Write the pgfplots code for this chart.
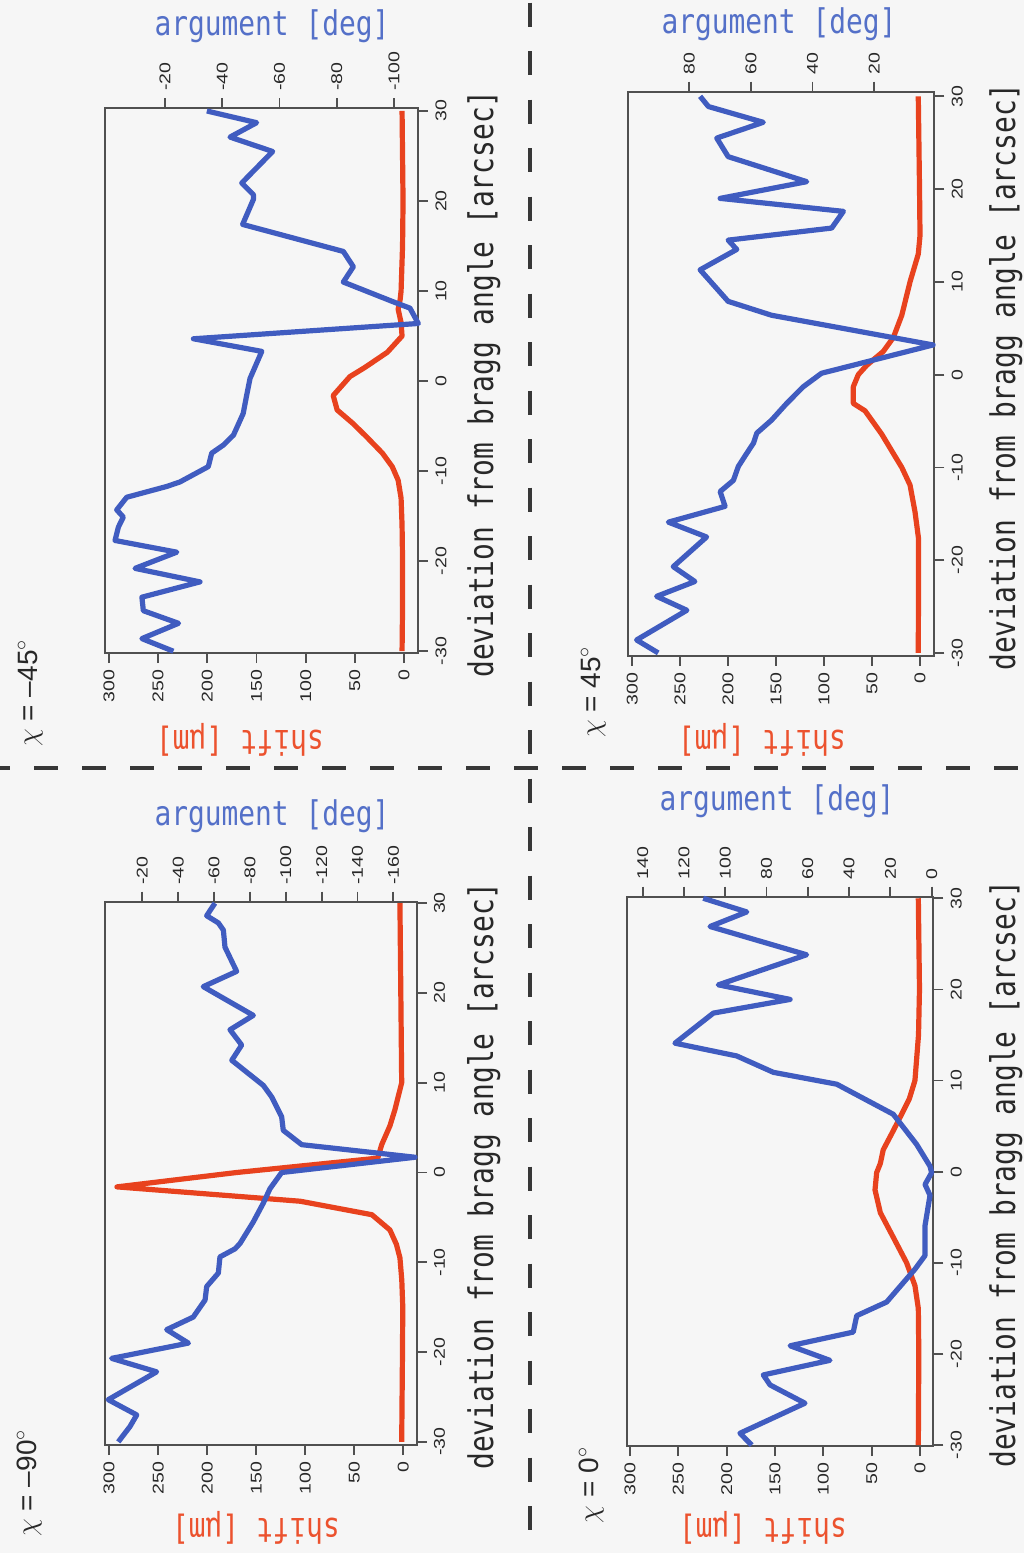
\documentclass[border=0pt]{standalone}
\usepackage{fontspec}
\usepackage{pgfplots}
\pgfplotsset{compat=1.18}
\setmainfont{Liberation Sans}
\newfontfamily\monof[FakeStretch=0.82]{DejaVu Sans Mono}
\newfontfamily\tickf[FakeStretch=1.25]{Liberation Sans}
\definecolor{cblue}{RGB}{64,92,192}
\definecolor{cred}{RGB}{232,66,30}
\definecolor{lblue}{RGB}{84,112,200}
\definecolor{lred}{RGB}{236,82,46}
\definecolor{axgray}{RGB}{80,80,80}
\definecolor{tickc}{RGB}{40,40,40}
\definecolor{bg}{RGB}{246,246,246}
\definecolor{dashc}{RGB}{55,55,55}
\pgfplotsset{
  base/.style={scale only axis, clip=false, anchor=north west,
    axis line style={draw=axgray, line width=1pt},
    tick style={draw=axgray, line width=0.9pt},
    major tick length=5pt, tick align=outside,
    /pgf/number format/assume math mode=true,
    ticklabel style={font=\tickf\fontsize{7.8}{9}\selectfont, text=tickc}},
  shiftax/.style={base, x dir=reverse, xtick={0,50,...,300}, ytick={-30,-20,...,30},
    xtick pos=left, ytick pos=right, xticklabel pos=left, yticklabel pos=right,
    x tick label style={rotate=90, anchor=east},
    y tick label style={rotate=90, anchor=north, inner sep=3.5pt}},
  argax/.style={base, x dir=reverse, xtick pos=right, xticklabel pos=right, ytick=\empty,
    axis line style={draw=none},
    x tick label style={rotate=90, anchor=west}},
  redc/.style={cred, line width=2.6pt, line join=round},
  bluec/.style={cblue, line width=2.6pt, line join=round},
}
\begin{document}
\begin{tikzpicture}
\useasboundingbox (0,0) rectangle (512pt,-776.5pt);
\fill[bg] (0,0) rectangle (512pt,-776.5pt);
\draw[dashc, line width=2pt, dash pattern=on 12pt off 12pt] (-7pt,-384pt) -- (520pt,-384pt);
\draw[dashc, line width=2pt, dash pattern=on 12pt off 12.25pt] (265pt,-1.25pt) -- (265pt,-780pt);

% ---------- chi = -45 (A) ----------
\begin{axis}[shiftax, at={(52.5pt,-54pt)}, width=156.5pt, height=272.5pt,
  xmin=-14.2, xmax=304, ymin=-30.2, ymax=30.33]
\addplot[redc] coordinates {(2,30) (1.5,25) (1,20) (1.5,15) (3,10) (4,9) (6,8) (3,6.5) (2,5) (17,3.2) (40,1.5) (55,0.5) (72,-1.6) (68,-3.2) (52,-4.7) (38,-6.2) (22,-8) (12,-9.5) (6,-11) (3,-13) (2,-16) (1.5,-20) (1.5,-25) (2,-30)};
\end{axis}
\begin{axis}[argax, at={(52.5pt,-54pt)}, width=156.5pt, height=272.5pt,
  xmin=-108.4, xmax=1.0, ymin=-30.2, ymax=30.33, xtick={-100,-80,...,-20}]
\addplot[bluec] coordinates {(-34.6,30) (-52.0,28.7) (-42.7,27.1) (-57.6,25.5) (-46.8,22.0) (-50.9,20.7) (-50.9,20.2) (-47.1,17.4) (-82.3,14.4) (-85.8,12.7) (-82.3,11.0) (-99.8,8.8) (-105.6,8.1) (-108.5,6.4) (-29.9,4.7) (-53.8,3.3) (-49.7,0.3) (-48.5,-1.6) (-47.3,-3.6) (-43.9,-6.0) (-40.4,-7.1) (-36.3,-8.0) (-35.1,-9.5) (-25.2,-11.2) (-20.6,-11.7) (-6.6,-12.9) (-3.1,-14.3) (-5.4,-15.1) (-3.7,-16.2) (-2.5,-17.7) (-24.1,-19.0) (-9.5,-20.8) (-32.2,-22.3) (-11.9,-24.0) (-12.4,-25.5) (-24.7,-26.9) (-11.9,-28.6) (-22.9,-30)};
\end{axis}

% ---------- chi = -90 (B) ----------
\begin{axis}[shiftax, at={(52.5pt,-450.85pt)}, width=155.85pt, height=271.65pt,
  xmin=-13.7, xmax=304.2, ymin=-30.35, ymax=30.16]
\addplot[redc] coordinates {(3.4,30) (2.5,20) (1.6,10) (8.5,7) (13.6,5.2) (22,3.1) (26,1.6) (170,0) (292,-1.6) (105,-3.2) (32,-4.7) (13.6,-6.4) (7,-8) (3.4,-9.5) (1.5,-12) (0.5,-15) (0.8,-20) (1.2,-25) (1.6,-30)};
\end{axis}
\begin{axis}[argax, at={(52.5pt,-450.85pt)}, width=155.85pt, height=271.65pt,
  xmin=-173, xmax=0.8, ymin=-30.35, ymax=30.16, xtick={-160,-140,...,-20}]
\addplot[bluec] coordinates {(-60.5,30) (-55.9,28.6) (-62.4,27.8) (-65.2,27.0) (-66.1,25.1) (-72.6,22.4) (-54.0,20.7) (-81.9,17.5) (-68.9,15.9) (-75.4,14.2) (-69.9,12.5) (-87.5,9.7) (-92.2,8.4) (-97.7,6.2) (-98.6,4.7) (-108.9,3.1) (-172.1,1.7) (-97.7,0) (-91.2,-1.8) (-87.5,-3.4) (-81.9,-5.5) (-74.5,-7.9) (-71.7,-8.5) (-63.3,-9.4) (-62.4,-11.2) (-55.9,-12.7) (-55.0,-14.2) (-48.4,-16.1) (-33.6,-17.5) (-45.7,-19.0) (-2.9,-20.7) (-28.0,-22.2) (-1.0,-25.3) (-16.9,-27.0) (-13.1,-28.3) (-6.6,-30)};
\end{axis}

% ---------- chi = 0 (C) ----------
\begin{axis}[shiftax, at={(313.35pt,-448.35pt)}, width=153.3pt, height=274.65pt,
  xmin=-13.8, xmax=303.4, ymin=-30.1, ymax=30.17]
\addplot[redc] coordinates {(1.7,30) (0.5,20) (1.5,15) (5.2,10) (11,8) (19,6.3) (27.6,4.5) (38,2.4) (41,0.9) (44.8,-0.1) (46.5,-2) (41,-4.5) (27.6,-7.2) (13.8,-10) (5.2,-12.5) (1.7,-15) (1.2,-20) (1.7,-30)};
\end{axis}
\begin{axis}[argax, at={(313.35pt,-448.35pt)}, width=153.3pt, height=274.65pt,
  xmin=-0.8, xmax=147.8, ymin=-30.1, ymax=30.17, xtick={0,20,...,140}]
\addplot[bluec] coordinates {(110.7,30) (89.6,28.5) (107.4,26.9) (60.6,23.8) (103.4,20.5) (68.6,18.9) (105.8,17.4) (124.4,14.1) (94.5,12.7) (76.7,10.9) (46.0,9.6) (18.6,6.3) (7.3,3.0) (0.8,0.6) (0,-0.1) (3.2,-1.4) (0.8,-2.6) (3.2,-5.9) (3.2,-9.2) (8.1,-10.7) (21.8,-14.3) (36.3,-15.8) (38.0,-17.6) (68.6,-19.1) (49.3,-20.7) (81.6,-22.3) (78.3,-23.4) (61.4,-25.4) (92.9,-28.7) (87.2,-30)};
\end{axis}

% ---------- chi = 45 (D) ----------
\begin{axis}[shiftax, at={(314.15pt,-45.85pt)}, width=153pt, height=282pt,
  xmin=-14.9, xmax=304, ymin=-30.3, ymax=30.5]
\addplot[redc] coordinates {(1.8,30) (0.5,20) (0,15) (1.8,13) (10.4,10) (19,6.4) (27.8,4) (38.3,2.5) (55.6,1) (64.3,0) (69.5,-1.3) (69.5,-3.1) (57.3,-3.9) (40,-6.4) (27.8,-8.5) (19,-10) (10.4,-11.9) (5.2,-14.8) (1.5,-17.7) (1.5,-20) (1.8,-30)};
\end{axis}
\begin{axis}[argax, at={(314.15pt,-45.85pt)}, width=153pt, height=282pt,
  xmin=0.5, xmax=99.8, ymin=-30.3, ymax=30.5, xtick={20,40,...,80}]
\addplot[bluec] coordinates {(76.5,30) (73.8,28.9) (56.0,27.2) (71.1,25.5) (67.4,23.5) (41.9,20.8) (70.0,19.0) (30.0,17.6) (33.8,15.8) (67.4,14.5) (64.6,13.5) (76.5,11.3) (67.4,7.9) (53.3,6.4) (0.9,3.2) (37.1,0.15) (43,-1.3) (48.4,-3.1) (53.3,-4.9) (58.1,-6.3) (59.2,-7.4) (61.4,-8.5) (64.1,-9.9) (65.7,-11.4) (70.0,-12.6) (68.4,-14.2) (86.8,-15.9) (74.4,-17.5) (85.2,-20.7) (78.2,-22.3) (90.6,-23.9) (80.8,-25.4) (97.1,-28.6) (90.1,-30)};
\end{axis}

% ---------- labels ----------
\tikzset{mono/.style={font=\monof\fontsize{17}{20}\selectfont, inner sep=0pt}}
\node[mono, text=lblue, anchor=base] at (136pt,-17.5pt) {argument [deg]};
\node[mono, text=lblue, anchor=base] at (136pt,-412.5pt) {argument [deg]};
\node[mono, text=lblue, anchor=base] at (388.5pt,-405pt) {argument [deg]};
\node[mono, text=lblue, anchor=base] at (389.5pt,-16.5pt) {argument [deg]};

\node[mono, text=tickc, rotate=90, anchor=base] at (246.5pt,-192pt) {deviation from bragg angle [arcsec]};
\node[mono, text=tickc, rotate=90, anchor=base] at (246.5pt,-588pt) {deviation from bragg angle [arcsec]};
\node[mono, text=tickc, rotate=90, anchor=base] at (507.5pt,-587pt) {deviation from bragg angle [arcsec]};
\node[mono, text=tickc, rotate=90, anchor=base] at (507.5pt,-188.5pt) {deviation from bragg angle [arcsec]};

\node[mono, text=lred, rotate=180, anchor=base] at (120pt,-365pt) {shift [μm]};
\node[mono, text=lred, rotate=180, anchor=base] at (128pt,-759pt) {shift [μm]};
\node[mono, text=lred, rotate=180, anchor=base] at (381.5pt,-759pt) {shift [μm]};
\node[mono, text=lred, rotate=180, anchor=base] at (381pt,-365pt) {shift [μm]};

\tikzset{chil/.style={font=\fontsize{14}{16}\selectfont, text=tickc, rotate=90, anchor=base, inner sep=0pt}}
\node[chil] at (18.5pt,-346.5pt) {$\chi$ = –45$^{\circ}$};
\node[chil] at (18pt,-741.5pt) {$\chi$ = –90$^{\circ}$};
\node[chil] at (299pt,-742.5pt) {$\chi$ = 0$^{\circ}$};
\node[chil] at (300pt,-346pt) {$\chi$ = 45$^{\circ}$};
\end{tikzpicture}
\end{document}
